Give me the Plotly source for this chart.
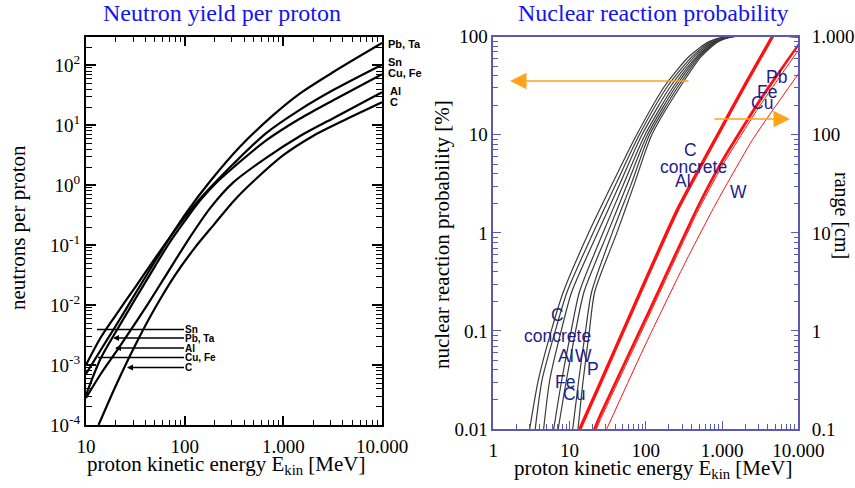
import plotly.graph_objects as go

# ---------------- Left panel: neutron yield per proton ----------------
E_PbTa = [10, 14.1, 20, 31.6, 50.1, 66.1, 105, 182, 363, 794, 1480, 3240, 10000]
yield_PbTa = [7.1e-4, 1.78e-3, 4.47e-3, 1.55e-2, 5.37e-2, 0.112, 0.355, 1.17, 4.37, 14.8, 33.9, 77.6, 234]
E_Sn = [10, 14.0, 20, 31.6, 50.1, 70.8, 100, 141, 200, 302, 661, 1480, 3240, 10000]
yield_Sn = [1.0e-3, 2.82e-3, 6.76e-3, 2.0e-2, 6.03e-2, 0.135, 0.288, 0.575, 1.07, 2.14, 7.24, 18.2, 38.9, 102]
E_CuFe = [10, 14.0, 20, 31.6, 50.1, 70.8, 100, 141, 200, 309, 676, 1480, 3240, 10000]
yield_CuFe = [3.16e-4, 1.26e-3, 3.55e-3, 1.26e-2, 4.47e-2, 0.112, 0.251, 0.537, 1.02, 1.95, 5.62, 12.9, 26.3, 70.8]
E_Al = [10, 14.1, 21.4, 31.6, 41.7, 63.1, 110, 182, 309, 676, 1480, 3240, 10000]
yield_Al = [2.82e-4, 7.08e-4, 1.91e-3, 5.01e-3, 1.0e-2, 2.95e-2, 0.126, 0.417, 1.10, 2.88, 6.61, 13.2, 35.5]
E_C = [13.4, 20, 32, 50.1, 80, 126, 200, 316, 501, 1000, 2000, 3980, 10000]
yield_C = [1.0e-4, 4.47e-4, 2.24e-3, 8.91e-3, 3.16e-2, 8.91e-2, 0.224, 0.55, 1.17, 3.16, 6.61, 11.7, 24.0]

left_xtick_vals = [10, 100, 1000, 10000]
left_xtick_text = ["10", "100", "1.000", "10.000"]
left_ytick_vals = [1e-4, 1e-3, 1e-2, 1e-1, 1, 10, 100]
left_ytick_text = ["10<sup>-4</sup>", "10<sup>-3</sup>", "10<sup>-2</sup>", "10<sup>-1</sup>",
                   "10<sup>0</sup>", "10<sup>1</sup>", "10<sup>2</sup>"]

# ---------------- Right panel: reaction probability (black) ----------------
P_levels = [0.01, 0.0316, 0.1, 0.251, 1, 3.16, 10, 31.6, 63.1, 89.1, 100, 100]
E_prob_1 = [3.0, 3.9, 5.75, 8.3, 17.8, 36.3, 75.9, 178, 372, 676, 1120, 10000]
E_prob_2 = [3.55, 4.36, 6.5, 9.3, 20.4, 40.7, 82.2, 195, 407, 724, 1200, 10000]
E_prob_3 = [4.57, 5.5, 7.76, 10.7, 23.4, 45.7, 89.1, 214, 437, 776, 1260, 10000]
E_prob_4 = [6.2, 7.9, 10.5, 13.5, 27.5, 51.3, 97.7, 234, 468, 813, 1320, 10000]
E_prob_5 = [7.1, 9.1, 12.0, 15.5, 31.6, 57.5, 105, 251, 490, 851, 1350, 10000]
E_prob_6 = [11.0, 13.2, 16.2, 19.5, 36.3, 64.6, 112, 269, 513, 871, 1380, 10000]
E_prob_7 = [12.9, 15.1, 18.2, 21.4, 41.7, 70.8, 120, 288, 537, 891, 1410, 10000]

# ---------------- Right panel: range (red) ----------------
E_range_C = [13.4, 25.1, 79.4, 254, 933, 2000, 4470, 5000]
R_range_C = [0.1, 0.30, 2.29, 17.1, 112, 331, 1000, 1175]
E_range_concrete = [14.0, 26.3, 83, 266, 975, 2090, 4670, 5200]
R_range_concrete = [0.1, 0.30, 2.29, 17.1, 112, 331, 1000, 1175]
E_range_Fe = [21.6, 25.1, 100, 465, 1000, 3160, 10000]
R_range_Fe = [0.1, 0.134, 1.32, 17.1, 52.5, 221, 813]
E_range_Pb = [20.9, 25.1, 100, 465, 1000, 3160, 10000]
R_range_Pb = [0.1, 0.14, 1.38, 17.8, 55, 232, 830]
E_range_Cu = [22.5, 26, 100, 465, 1000, 3160, 10000]
R_range_Cu = [0.1, 0.13, 1.22, 15.8, 48, 200, 724]
E_range_W = [30.7, 100, 316, 794, 2510, 10000]
R_range_W = [0.1, 0.74, 4.68, 18.6, 89.1, 417]

right_xtick_vals = [1, 10, 100, 1000, 10000]
right_xtick_text = ["1", "10", "100", "1.000", "10.000"]
prob_tick_vals = [0.01, 0.1, 1, 10, 100]
prob_tick_text = ["0.01", "0.1", "1", "10", "100"]
range_tick_vals = [0.1, 1, 10, 100, 1000]
range_tick_text = ["0.1", "1", "10", "100", "1.000"]

W, H = 855, 488
def px(x):
    return x / W
def py(y):
    return 1 - y / H

SERIF = "Liberation Serif"
SANS = "Liberation Sans"
AXC = "#5a5ab4"
NAVY = "#1e1e8c"

fig = go.Figure()

for xs, ys in [(E_PbTa, yield_PbTa), (E_Sn, yield_Sn), (E_CuFe, yield_CuFe),
               (E_Al, yield_Al), (E_C, yield_C)]:
    fig.add_trace(go.Scatter(x=xs, y=ys, mode="lines", xaxis="x", yaxis="y",
                             line=dict(color="black", width=2.2, shape="spline", smoothing=0.8),
                             hoverinfo="skip"))

for xs in [E_prob_1, E_prob_2, E_prob_3, E_prob_4, E_prob_5, E_prob_6, E_prob_7]:
    fig.add_trace(go.Scatter(x=xs, y=P_levels, mode="lines", xaxis="x2", yaxis="y2",
                             line=dict(color="#3a3a3a", width=1.2, shape="spline", smoothing=0.7),
                             hoverinfo="skip"))

for xs, ys, w in [(E_range_C, R_range_C, 2.2), (E_range_concrete, R_range_concrete, 1.8),
                  (E_range_Pb, R_range_Pb, 1.8), (E_range_Fe, R_range_Fe, 1.8),
                  (E_range_Cu, R_range_Cu, 1.0), (E_range_W, R_range_W, 1.0)]:
    fig.add_trace(go.Scatter(x=xs, y=ys, mode="lines", xaxis="x2", yaxis="y3",
                             line=dict(color="#ff1010", width=w, shape="spline", smoothing=0.5),
                             hoverinfo="skip"))

tickfont = dict(family=SERIF, size=19, color="black")

fig.update_layout(
    width=W, height=H, margin=dict(l=0, r=0, t=0, b=0, autoexpand=False),
    paper_bgcolor="white", plot_bgcolor="white", showlegend=False,
    xaxis=dict(domain=[px(86), px(382)], anchor="y", type="log", range=[1, 4], automargin=False,
               tickvals=left_xtick_vals, ticktext=left_xtick_text, tickfont=tickfont,
               ticks="inside", ticklen=9, tickwidth=1.5, tickcolor="black",
               minor=dict(ticks="inside", ticklen=5, tickwidth=1.2, tickcolor="black", dtick="D1", showgrid=False),
               showline=True, linewidth=2, linecolor="black", mirror="allticks",
               showgrid=False, zeroline=False, ticklabelstandoff=3),
    yaxis=dict(domain=[py(425), py(37)], anchor="x", type="log", range=[-4, 2.47], automargin=False,
               tickvals=left_ytick_vals, ticktext=left_ytick_text, tickfont=tickfont,
               ticks="inside", ticklen=10, tickwidth=1.5, tickcolor="black",
               minor=dict(ticks="inside", ticklen=6, tickwidth=1.2, tickcolor="black", dtick="D1", showgrid=False),
               showline=True, linewidth=2, linecolor="black", mirror="allticks",
               showgrid=False, zeroline=False),
    xaxis2=dict(domain=[px(493.3), px(798.3)], anchor="y2", type="log", range=[0, 4], automargin=False,
                tickvals=right_xtick_vals, ticktext=right_xtick_text, tickfont=tickfont,
                ticks="inside", ticklen=8, tickwidth=1.2, tickcolor=AXC,
                minor=dict(ticks="inside", ticklen=5, tickwidth=1, tickcolor=AXC, dtick="D1", showgrid=False),
                showline=True, linewidth=1.5, linecolor=AXC, mirror=True,
                showgrid=False, zeroline=False, ticklabelstandoff=3),
    yaxis2=dict(domain=[py(429), py(36.7)], anchor="x2", type="log", range=[-2, 2], automargin=False,
                tickvals=prob_tick_vals, ticktext=prob_tick_text, tickfont=tickfont,
                ticks="inside", ticklen=8, tickwidth=1.2, tickcolor=AXC,
                minor=dict(ticks="inside", ticklen=5, tickwidth=1, tickcolor=AXC, dtick="D1", showgrid=False),
                showline=True, linewidth=1.5, linecolor=AXC,
                showgrid=False, zeroline=False),
    yaxis3=dict(overlaying="y2", side="right", anchor="x2", type="log", range=[-1, 3], automargin=False,
                tickvals=range_tick_vals, ticktext=range_tick_text, tickfont=tickfont,
                ticks="inside", ticklen=8, tickwidth=1.2, tickcolor=AXC,
                minor=dict(ticks="inside", ticklen=5, tickwidth=1, tickcolor=AXC, dtick="D1", showgrid=False),
                showline=True, linewidth=1.5, linecolor=AXC,
                showgrid=False, zeroline=False, ticklabelstandoff=8),
)

ann = []
def text(x, y, s, size, color="black", family=SERIF, angle=0, xanchor="center", bold=False):
    if bold:
        s = "<b>" + s + "</b>"
    ann.append(dict(x=px(x), y=py(y), xref="paper", yref="paper", text=s, showarrow=False,
                    textangle=angle, xanchor=xanchor, yanchor="middle",
                    font=dict(family=family, size=size, color=color)))

# titles
text(222, 13, "Neutron yield per proton", 24, color="#1414f0")
text(653, 13, "Nuclear reaction probability", 24, color="#1414f0")
# axis titles
text(226, 465, "proton kinetic energy E<sub>kin</sub> [MeV]", 21)
text(653, 469, "proton kinetic energy E<sub>kin</sub> [MeV]", 21)
text(18, 228, "neutrons per proton", 21, angle=-90)
text(442, 235, "nuclear reaction probability [%]", 21, angle=-90)
text(842, 215, "range [cm]", 20, angle=90)

# left panel right-side labels
for s, x, y in [("Pb, Ta", 386, 44), ("Sn", 386, 62), ("Cu, Fe", 386, 73), ("Al", 388, 91), ("C", 388, 102)]:
    text(x, y, s, 11, family=SANS, xanchor="left", bold=True)

# left panel pointer annotations
for s, tipx, y, head in [("Sn", 97, 329.5, 0), ("Pb, Ta", 113, 338, 2), ("Al", 115, 348, 2),
                         ("Cu, Fe", 98, 357.5, 0), ("C", 127, 367.5, 2)]:
    ann.append(dict(x=px(tipx), y=py(y), xref="paper", yref="paper", text="<b>" + s + "</b>",
                    showarrow=True, ax=184 - tipx, ay=0, xanchor="left", yanchor="middle",
                    arrowhead=head, arrowsize=0.8, arrowwidth=1.5, arrowcolor="black",
                    standoff=0, startstandoff=0, borderpad=0,
                    font=dict(family=SANS, size=10, color="black")))

# right panel labels
for s, x, y in [("C", 557, 315), ("concrete", 557, 336), ("Al", 566, 356), ("W", 583, 356),
                ("P", 593, 369), ("Fe", 565, 382), ("Cu", 574, 394),
                ("C", 690, 150), ("concrete", 693, 167), ("Al", 683, 181), ("W", 738, 192),
                ("Pb", 776, 77), ("Fe", 767, 92), ("Cu", 762, 103)]:
    text(x, y, s, 17.5, color=NAVY, family=SANS)

# orange arrows
ann.append(dict(x=px(510), y=py(81), xref="paper", yref="paper", text="", showarrow=True,
                ax=180, ay=0, arrowhead=2, arrowsize=2.2, arrowwidth=1.5, arrowcolor="#ffa31a"))
ann.append(dict(x=px(790), y=py(119), xref="paper", yref="paper", text="", showarrow=True,
                ax=-77, ay=0, arrowhead=2, arrowsize=2.2, arrowwidth=1.5, arrowcolor="#ffa31a"))

fig.update_layout(annotations=ann)
fig.write_html(
    "out.html",
    config={"displayModeBar": False},
    post_script="document.body.style.margin='0';document.body.style.padding='0';"
                "document.documentElement.style.overflow='hidden';",
)
